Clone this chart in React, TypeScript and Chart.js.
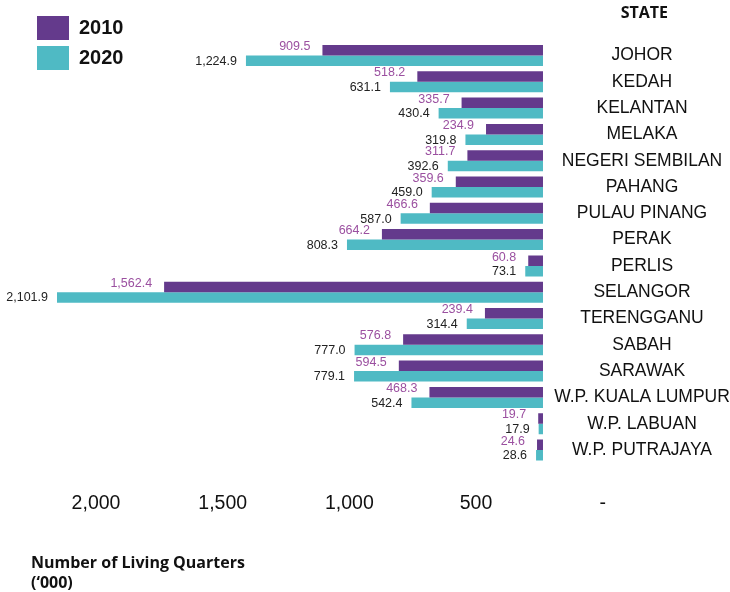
import React, { useEffect, useRef } from 'react';
import { Chart, registerables } from 'chart.js';

Chart.register(...registerables);

// ---- data ----
const states = [
  'JOHOR', 'KEDAH', 'KELANTAN', 'MELAKA', 'NEGERI SEMBILAN', 'PAHANG', 'PULAU PINANG', 'PERAK',
  'PERLIS', 'SELANGOR', 'TERENGGANU', 'SABAH', 'SARAWAK', 'W.P. KUALA LUMPUR', 'W.P. LABUAN', 'W.P. PUTRAJAYA',
];
const values2010 = [909.5, 518.2, 335.7, 234.9, 311.7, 359.6, 466.6, 664.2, 60.8, 1562.4, 239.4, 576.8, 594.5, 468.3, 19.7, 24.6];
const values2020 = [1224.9, 631.1, 430.4, 319.8, 392.6, 459.0, 587.0, 808.3, 73.1, 2101.9, 314.4, 777.0, 779.1, 542.4, 17.9, 28.6];
const seriesNames = ['2010', '2020'];
const xTickValues = [2000, 1500, 1000, 500, 0];
const axisName = ['Number of Living Quarters', '(\u2018000)'];
const stateHeading = 'STATE';

// ---- styles ----
const PURPLE = '#643a8c';
const TEAL = '#4fbac4';
const SANS = '"Liberation Sans", Arial, sans-serif';
const NARROW = '"Liberation Sans Narrow", "Liberation Sans", Arial, sans-serif';
const HEAD = '"Open Sans", "Liberation Sans", sans-serif';
const STATE_FONT_SIZE = 17.5;
const BAR_CLIP_X = 57; // bars are cut off at this pixel on the left
const LEGEND_W = 92;
const PAD_LEFT = 31;
const LABEL_STYLE = [
  { color: '#9b50a0', gap: 12, dy: -3.5 },
  { color: '#222222', gap: 9, dy: 0.5 },
];

const fmt = (v: number) =>
  v.toLocaleString('en-US', { minimumFractionDigits: 1, maximumFractionDigits: 1 });

const valueLabels = {
  id: 'valueLabels',
  afterDatasetsDraw(chart: any) {
    const { ctx } = chart;
    ctx.save();
    ctx.font = `12.5px ${SANS}`;
    ctx.textAlign = 'right';
    ctx.textBaseline = 'middle';
    chart.data.datasets.forEach((ds: any, i: number) => {
      const meta = chart.getDatasetMeta(i);
      if (meta.hidden) return;
      const st = LABEL_STYLE[i];
      meta.data.forEach((el: any, j: number) => {
        const { x, y } = el.getProps(['x', 'y'], true);
        const edge = Math.max(x, BAR_CLIP_X);
        ctx.fillStyle = st.color;
        ctx.fillText(fmt(ds.data[j]), edge - st.gap, y + st.dy);
      });
    });
    ctx.restore();
  },
};

export default function App() {
  const ref = useRef<HTMLCanvasElement | null>(null);

  useEffect(() => {
    if (!ref.current) return;
    const m = document.createElement('canvas').getContext('2d')!;
    m.font = `${STATE_FONT_SIZE}px ${SANS}`;
    const widest = Math.max(...states.map((s) => m.measureText(s).width));
    const yTickPad = widest / 2 - 26;
    const clipOverflow = PAD_LEFT + LEGEND_W - BAR_CLIP_X;

    const common = {
      borderWidth: 0,
      categoryPercentage: 0.8,
      barPercentage: 1,
      xAxisID: 'x',
      clip: { left: clipOverflow, top: 5, right: 5, bottom: 5 },
    };

    const chart = new Chart(ref.current, {
      type: 'bar',
      data: {
        labels: states,
        datasets: [
          { label: seriesNames[0], data: values2010, backgroundColor: PURPLE, ...common },
          { label: seriesNames[1], data: values2020, backgroundColor: TEAL, ...common },
        ],
      },
      options: {
        indexAxis: 'y',
        responsive: false,
        animation: false,
        events: [],
        layout: { padding: { left: PAD_LEFT, right: 62, top: 10, bottom: 0 } },
        scales: {
          x: {
            type: 'linear',
            display: false,
            reverse: true,
            min: -515.5,
            max: 1731.9,
          },
          x2: {
            type: 'linear',
            position: 'bottom',
            reverse: true,
            min: -257.8,
            max: 1893.5,
            grid: { display: false, drawTicks: false },
            border: { display: false },
            ticks: {
              autoSkip: false,
              maxRotation: 0,
              padding: 29.15,
              color: '#111111',
              font: { family: SANS, size: 19.5 },
              callback: (v: any) => (Number(v) === 0 ? '-' : Number(v).toLocaleString('en-US')),
            },
            afterBuildTicks: (s: any) => {
              s.ticks = xTickValues.map((value) => ({ value }));
            },
          },
          y: {
            type: 'category',
            position: 'right',
            grid: { display: false },
            border: { display: false },
            ticks: {
              mirror: true,
              autoSkip: false,
              crossAlign: 'center',
              padding: yTickPad,
              color: '#111111',
              font: { family: SANS, size: STATE_FONT_SIZE },
            },
            afterFit: (s: any) => {
              s.width = 0;
              s.paddingTop = 0;
              s.paddingBottom = 0;
            },
          },
        },
        plugins: {
          legend: {
            position: 'left',
            align: 'start',
            maxWidth: LEGEND_W,
            labels: {
              boxWidth: 32,
              boxHeight: 24,
              padding: 6,
              color: '#111111',
              font: { family: NARROW, size: 20, weight: 'bold' },
            },
          },
          title: {
            display: true,
            text: stateHeading,
            align: 'end',
            color: '#111111',
            font: { family: HEAD, size: 16, weight: 'bold' },
            padding: { top: -5.8, bottom: 18.95 },
          },
          subtitle: {
            display: true,
            position: 'bottom',
            align: 'start',
            text: axisName,
            color: '#111111',
            font: { family: HEAD, size: 16, weight: 'bold', lineHeight: 1.25 },
            padding: { top: 8.15, bottom: -1 },
          },
          tooltip: { enabled: false },
        },
      } as any,
      plugins: [valueLabels],
    });
    return () => chart.destroy();
  }, []);

  return (
    <div style={{ position: 'absolute', left: 0, top: 0, width: 730, height: 592, background: '#ffffff' }}>
      <canvas ref={ref} width={730} height={592} style={{ display: 'block' }} />
    </div>
  );
}
